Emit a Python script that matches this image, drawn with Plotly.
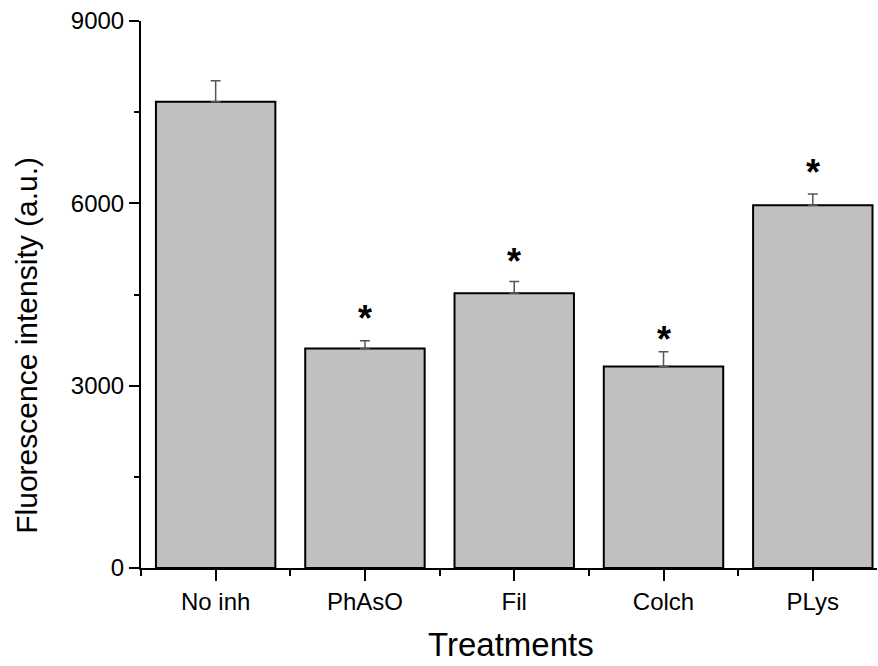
import plotly.graph_objects as go

# Mean fluorescence per treatment with SEM (upper error bar only)
treatments = ["No inh", "PhAsO", "Fil", "Colch", "PLys"]
intensity = [7670, 3610, 4520, 3315, 5970]
sem = [345, 130, 195, 245, 185]
significant = [False, True, True, True, True]

y_ticks = [0, 3000, 6000, 9000]

FONT = "Arial, Liberation Sans, sans-serif"
x_pos = list(range(len(treatments)))

fig = go.Figure()
fig.add_trace(go.Bar(
    x=x_pos,
    y=intensity,
    width=0.8,
    marker=dict(color="#c0c0c0", line=dict(color="black", width=2)),
    error_y=dict(
        type="data", symmetric=False, array=sem,
        arrayminus=[0] * len(sem),
        color="#555555", thickness=1.5, width=5,
    ),
    showlegend=False,
    hoverinfo="skip",
))

# significance asterisks above the error bars (pixel offsets per bar)
star_shift = [0, 8, 5, -2, 7]
for xi, v, e, sig, sh in zip(x_pos, intensity, sem, significant, star_shift):
    if sig:
        fig.add_annotation(
            x=xi, y=v + e, xref="x", yref="y",
            text="<b>*</b>", showarrow=False,
            yanchor="bottom", yshift=sh - 8,
            font=dict(family=FONT, size=36, color="black"),
        )

# axis titles
fig.add_annotation(
    text="Fluorescence intensity (a.u.)", textangle=-90,
    x=-0.155, y=0.408, xref="paper", yref="paper",
    xanchor="center", yanchor="middle", showarrow=False,
    font=dict(family=FONT, size=30, color="black"),
)
fig.add_annotation(
    text="Treatments",
    x=0.503, y=-0.103, xref="paper", yref="paper",
    xanchor="center", yanchor="top", showarrow=False,
    font=dict(family=FONT, size=33, color="black"),
)

fig.update_layout(
    width=878, height=666,
    margin=dict(l=141, r=1, t=21, b=98),
    paper_bgcolor="white", plot_bgcolor="white",
    bargap=0.2,
)

fig.update_xaxes(
    range=[-0.5, 4.43],
    tickmode="array", tickvals=x_pos, ticktext=treatments,
    ticks="outside", ticklen=11, tickwidth=2, tickcolor="black",
    minor=dict(tick0=-0.5, dtick=1, ticks="outside", ticklen=6,
               tickwidth=2, tickcolor="black"),
    showline=True, linecolor="black", linewidth=2,
    showgrid=False, zeroline=False,
    tickfont=dict(family=FONT, size=24, color="black"),
    fixedrange=True,
)
fig.update_yaxes(
    range=[0, 9000],
    tickmode="array", tickvals=y_ticks, ticktext=[str(t) for t in y_ticks],
    ticks="outside", ticklen=10, tickwidth=2, tickcolor="black",
    minor=dict(tick0=0, dtick=1500, ticks="outside", ticklen=5,
               tickwidth=2, tickcolor="black"),
    showline=True, linecolor="black", linewidth=2,
    showgrid=False, zeroline=False,
    tickfont=dict(family=FONT, size=24, color="black"),
    fixedrange=True,
)

fig.write_html("out.html", config={"displayModeBar": False})
